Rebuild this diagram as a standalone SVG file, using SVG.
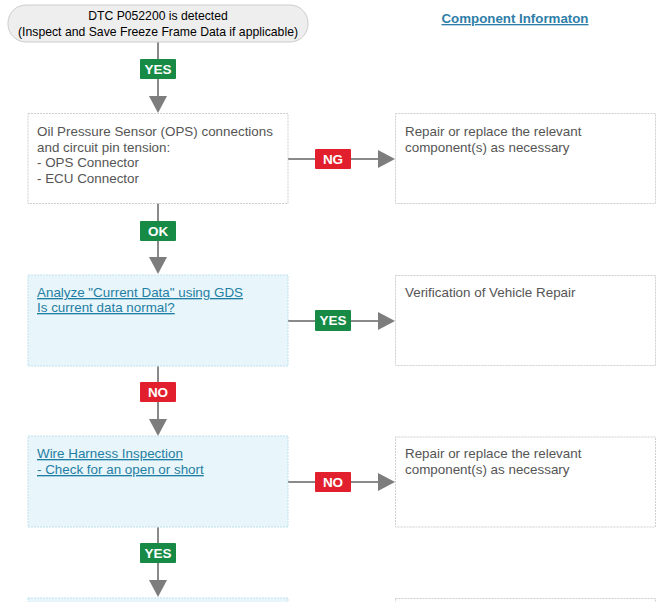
<svg xmlns="http://www.w3.org/2000/svg" width="662" height="602" viewBox="0 0 662 602">
<defs>
<style>
.box{fill:#ffffff;stroke:#cfcfcf;stroke-width:1;stroke-dasharray:2 1}
.blue{fill:#e8f6fb;stroke:#bfe0ee;stroke-width:1;stroke-dasharray:2 1}
.t{font-family:"Liberation Sans",Arial,sans-serif;font-size:13.4px;fill:#555555}
.lk{font-family:"Liberation Sans",Arial,sans-serif;font-size:13.4px;fill:#1f7ea3;text-decoration:underline}
.top{font-family:"Liberation Sans",Arial,sans-serif;font-size:12.2px;fill:#000000;text-anchor:middle}
.ln{stroke:#8a8a8a;stroke-width:2;fill:none}
.ah{fill:#7d7d7d}
.g{fill:#178b46}
.r{fill:#e21f2d}
.bt{font-family:"Liberation Sans",Arial,sans-serif;font-size:13.5px;font-weight:bold;fill:#ffffff;text-anchor:middle}
</style>
</defs>
<rect width="662" height="602" fill="#ffffff"/>
<g id="connectors">
<line class="ln" x1="158" y1="42" x2="158" y2="98"/>
<polygon class="ah" points="149,96 167,96 158,113"/>
<line class="ln" x1="158" y1="203" x2="158" y2="258"/>
<polygon class="ah" points="149,257 167,257 158,274"/>
<line class="ln" x1="158" y1="366" x2="158" y2="420"/>
<polygon class="ah" points="149,419 167,419 158,436"/>
<line class="ln" x1="158" y1="527" x2="158" y2="582"/>
<polygon class="ah" points="149,580 167,580 158,597"/>
<line class="ln" x1="288" y1="159" x2="380" y2="159"/>
<polygon class="ah" points="378,150 378,168 395,159"/>
<line class="ln" x1="288" y1="321" x2="380" y2="321"/>
<polygon class="ah" points="378,312 378,330 395,321"/>
<line class="ln" x1="288" y1="482" x2="380" y2="482"/>
<polygon class="ah" points="378,473 378,491 395,482"/>
<g id="lbl-yes1"><rect class="g" x="140" y="59" width="36" height="20" rx="1"/><text class="bt" x="158" y="74">YES</text></g>
<g id="lbl-ok"><rect class="g" x="140" y="221" width="36" height="20" rx="1"/><text class="bt" x="158" y="236">OK</text></g>
<g id="lbl-no1"><rect class="r" x="140" y="382" width="36" height="20" rx="1"/><text class="bt" x="158" y="397">NO</text></g>
<g id="lbl-yes3"><rect class="g" x="140" y="543" width="36" height="20" rx="1"/><text class="bt" x="158" y="558">YES</text></g>
<g id="lbl-ng"><rect class="r" x="315" y="149" width="36" height="20" rx="1"/><text class="bt" x="333" y="164">NG</text></g>
<g id="lbl-yes2"><rect class="g" x="315" y="310" width="36" height="21" rx="1"/><text class="bt" x="333" y="325">YES</text></g>
<g id="lbl-no2"><rect class="r" x="315" y="472" width="36" height="20" rx="1"/><text class="bt" x="333" y="487">NO</text></g>
</g>
<g id="start">
<rect x="8" y="5" width="300" height="37" rx="18" fill="#eeeeee" stroke="#cccccc"/>
<text class="top" x="158" y="20">DTC P052200 is detected</text>
<text class="top" x="158" y="36" textLength="280" lengthAdjust="spacingAndGlyphs">(Inspect and Save Freeze Frame Data if applicable)</text>
</g>
<g id="header">
<text x="515" y="23" text-anchor="middle" font-family="'Liberation Sans',Arial,sans-serif" font-size="13.3" font-weight="bold" fill="#2e7ea8" text-decoration="underline">Component Informaton</text>
</g>
<g id="ops-check">
<rect class="box" x="28" y="113.5" width="260" height="90"/>
<text class="t" x="37" y="136">Oil Pressure Sensor (OPS) connections</text>
<text class="t" x="37" y="152">and circuit pin tension:</text>
<text class="t" x="37" y="167">- OPS Connector</text>
<text class="t" x="37" y="183">- ECU Connector</text>
</g>
<g id="repair1">
<rect class="box" x="395.5" y="113.5" width="260" height="90"/>
<text class="t" x="405" y="136">Repair or replace the relevant</text>
<text class="t" x="405" y="152">component(s) as necessary</text>
</g>
<g id="current-data">
<rect class="blue" x="28" y="275" width="260" height="91"/>
<text class="lk" x="37" y="297">Analyze "Current Data" using GDS</text>
<text class="lk" x="37" y="312">Is current data normal?</text>
</g>
<g id="verify">
<rect class="box" x="395.5" y="275.5" width="260" height="90"/>
<text class="t" x="405" y="297">Verification of Vehicle Repair</text>
</g>
<g id="harness">
<rect class="blue" x="28" y="436" width="260" height="91"/>
<text class="lk" x="37" y="458">Wire Harness Inspection</text>
<text class="lk" x="37" y="474">- Check for an open or short</text>
</g>
<g id="repair2">
<rect class="box" x="395.5" y="437" width="260" height="90"/>
<text class="t" x="405" y="458">Repair or replace the relevant</text>
<text class="t" x="405" y="474">component(s) as necessary</text>
</g>
<g id="next-left">
<rect class="blue" x="28" y="598" width="260" height="20"/>
</g>
<g id="next-right">
<rect class="box" x="395.5" y="598.5" width="260" height="20"/>
</g>
</svg>
